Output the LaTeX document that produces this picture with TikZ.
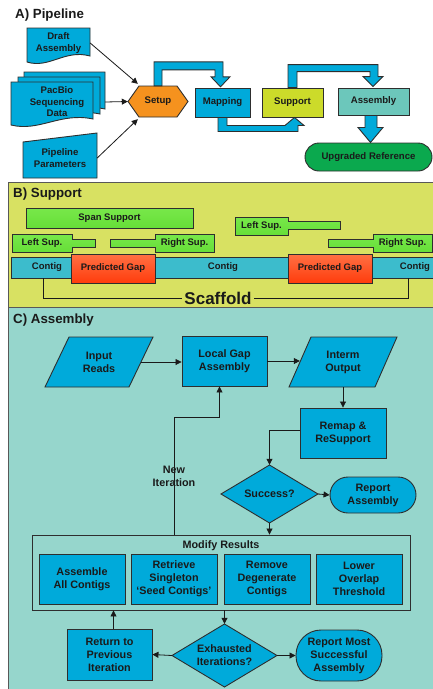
\documentclass[tikz,border=0pt]{standalone}
\usepackage{fontspec}
\setmainfont{Liberation Sans}
\usetikzlibrary{arrows.meta,calc}

\definecolor{ink}{HTML}{1A1A1A}
\definecolor{edge}{HTML}{2E2E2E}
\definecolor{flowblue}{HTML}{00AADA}
\definecolor{setuporange}{HTML}{F5921E}
\definecolor{supportlime}{HTML}{CCDB2A}
\definecolor{assemblyteal}{HTML}{6CC7BB}
\definecolor{refgreen}{HTML}{0BA94E}
\definecolor{panelB}{HTML}{D8E162}
\definecolor{panelC}{HTML}{96D6CC}
\definecolor{supgreen}{HTML}{66DE38}
\definecolor{suptop}{HTML}{78E84A}
\definecolor{contigteal}{HTML}{3CBCCC}
\definecolor{gaptop}{HTML}{FF7044}
\definecolor{gapbot}{HTML}{FF3C0C}

\tikzset{
  txtbase/.style={text=ink, align=center, inner sep=0pt},
  txtA/.style={txtbase, font=\bfseries\fontsize{9.6}{11.5}\selectfont},
  txtB/.style={txtbase, font=\bfseries\fontsize{9.5}{11}\selectfont},
  txtC/.style={txtbase, font=\bfseries\fontsize{10.8}{13}\selectfont},
  title/.style={txtbase, anchor=base west, font=\bfseries\fontsize{13.3}{15}\selectfont},
  shapeline/.style={draw=edge, line width=0.9pt, line join=miter},
  boxA/.style={txtA, shapeline, fill=flowblue, rectangle},
  boxC/.style={txtC, shapeline, fill=flowblue, rectangle},
  docstyle/.style={shapeline, fill=flowblue},
  supstyle/.style={shapeline, top color=suptop, bottom color=supgreen},
  panel/.style={draw=edge!80, line width=0.9pt},
  arr/.style={draw=ink, line width=0.8pt, -{Triangle[length=6pt,width=6pt]}},
  blockarrow/.style={shapeline, fill=flowblue},
  bracket/.style={draw=ink, line width=0.8pt},
}

% document shape with a wavy lower edge: left, top, right, bottom (at the left)
\newcommand{\docshape}[4]{%
  \filldraw[docstyle] (#1,#2) -- (#3,#2) -- (#3,{#4-6})
    .. controls ({#1+0.6*(#3-#1)},{#4-13}) and ({#1+0.35*(#3-#1)},{#4+7}) .. (#1,#4) -- cycle;}

% support read: body from #1 to #2 (rows #3..#4), thin tail from #2 to #5 (rows #6..#7)
\newcommand{\supshape}[7]{%
  \filldraw[supstyle] (#1,#3) -- (#2,#3) -- (#2,#6) -- (#5,#6) -- (#5,#7)
    -- (#2,#7) -- (#2,#4) -- (#1,#4) -- cycle;}

\begin{document}
\begin{tikzpicture}[x=1pt, y=-1pt]
\clip (0,0) rectangle (433,689);
\fill[white] (0,0) rectangle (433,689);

%% ---------------- A) Pipeline ----------------
\node[title] (titleA) at (15,18) {A) Pipeline};

% inputs
\docshape{27}{28}{90}{62}
\node[txtA, minimum width=63, minimum height=30] (draft) at (58.5,43) {Draft\\Assembly};

\docshape{24}{72}{105}{115}
\docshape{18}{77}{100}{120}
\docshape{11}{82}{93}{125}
\node[txtA, minimum width=96, minimum height=40] (pacbio) at (57,102) {PacBio\\Sequencing\\Data};

\filldraw[docstyle] (23,142) -- (97,133) -- (97,178) -- (23,178) -- cycle;
\node[txtA, minimum width=74, minimum height=40] (params) at (60,158) {Pipeline\\Parameters};

% setup hexagon
\filldraw[shapeline, fill=setuporange] (128,101.5) -- (139,86) -- (177,86) -- (188,101.5)
  -- (177,117) -- (139,117) -- cycle;
\node[txtA, minimum width=60, minimum height=31] (setup) at (158,101.5) {Setup};

\draw[arr] (draft.east) -- ($(setup.north west)+(10,-2)$);
\draw[arr] (pacbio.east) -- (setup.west);
\draw[arr] (params.east) -- ($(setup.south west)+(10,2)$);

% stages
\node[boxA, minimum width=55, minimum height=29] (map) at (222.5,102.5) {Mapping};
\node[boxA, fill=supportlime, minimum width=61, minimum height=29] (support) at (292.5,102.5) {Support};
\node[boxA, fill=assemblyteal, minimum width=71, minimum height=27] (assembly) at (373.5,101.5) {Assembly};
\node[boxA, fill=refgreen, rounded corners=14, minimum width=127, minimum height=28] (upgraded) at (368.5,157) {Upgraded Reference};

% block arrows between stages
\draw[blockarrow] ($(setup.north)+(-4,0)$) -- ++(0,-24) -- ++(69,0) -- ++(0,15) -- ++(7,0)
  -- ++(-9.5,10) -- ++(-9.5,-10) -- ++(4,0) -- ++(0,-7) -- ++(-53,0) -- ++(0,16) -- cycle;
\draw[blockarrow] ($(map.south)+(-4.5,0)$) -- ++(0,14) -- ++(80,0) -- ++(0,-6) -- ++(6,0)
  -- ++(-9.5,-8) -- ++(-9.5,8) -- ++(-58,0) -- ++(0,-8) -- cycle;
\draw[blockarrow] ($(support.north)+(-4.5,0)$) -- ++(0,-23) -- ++(90,0) -- ++(0,12) -- ++(5,0)
  -- ++(-10,10) -- ++(-10,-10) -- ++(7,0) -- ++(0,-5) -- ++(-73,0) -- ++(0,16) -- cycle;
\draw[blockarrow] ($(assembly.south)+(-8.5,0)$) -- ++(0,12) -- ++(-7,0) -- ++(12.5,15)
  -- ++(12.5,-15) -- ++(-6,0) -- ++(0,-12) -- cycle;

%% ---------------- B) Support ----------------
\filldraw[panel, fill=panelB] (8,182) rectangle (445,307);
\node[title] (titleB) at (13,197) {B) Support};

\node[txtB, shapeline, top color=suptop, bottom color=supgreen, minimum width=167, minimum height=20] (span) at (109.5,218) {Span Support};

\supshape{12}{72}{234}{252}{95}{239}{247}
\node[txtB] (lsupA) at (42,243) {Left Sup.};
\supshape{214}{155}{234}{252}{110}{239}{247}
\node[txtB] (rsupA) at (184.5,243) {Right Sup.};
\supshape{235}{288}{217}{235}{340}{221}{229}
\node[txtB] (lsupB) at (261.5,226) {Left Sup.};
\supshape{432}{373}{234}{252}{328}{239}{247}
\node[txtB] (rsupB) at (402.5,243) {Right Sup.};

% contigs and predicted gaps
\filldraw[shapeline, fill=contigteal] (11,257) rectangle (445,278);
\node[txtB, minimum height=21] (contigA) at (47,267.5) {Contig};
\node[txtB, minimum height=21] (contigB) at (223,267.5) {Contig};
\node[txtB, minimum height=21] (contigC) at (415,267.5) {Contig};
\node[txtB, shapeline, top color=gaptop, bottom color=gapbot, minimum width=84, minimum height=29] (gapA) at (113,268.5) {Predicted Gap};
\node[txtB, shapeline, top color=gaptop, bottom color=gapbot, minimum width=84, minimum height=29] (gapB) at (330,268.5) {Predicted Gap};

% scaffold bracket
\node[txtbase, font=\bfseries\fontsize{17}{20}\selectfont, inner xsep=2pt] (scaffold) at (218,298) {Scaffold};
\draw[bracket] ($(contigA.south)+(-4,0)$) |- (scaffold.west);
\draw[bracket] ($(contigC.south)+(-7,0)$) |- (scaffold.east);

%% ---------------- C) Assembly ----------------
\filldraw[panel, fill=panelC] (8,307) rectangle (445,700);
\node[title] (titleC) at (13,323) {C) Assembly};

\filldraw[docstyle] (69,337) -- (153,337) -- (129,387) -- (45,387) -- cycle;
\node[txtC, minimum width=84, minimum height=50] (inreads) at (99,362) {Input\\Reads};

\node[boxC, minimum width=85, minimum height=50] (local) at (224.5,361) {Local Gap\\Assembly};

\filldraw[docstyle] (311,337) -- (397,337) -- (375,387) -- (289,387) -- cycle;
\node[txtC, minimum width=86, minimum height=50] (interm) at (343,362) {Interm\\Output};

\node[boxC, minimum width=86, minimum height=50] (remap) at (343,433) {Remap \&\\ReSupport};

\filldraw[docstyle] (221,494) -- (269.5,465) -- (318,494) -- (269.5,523) -- cycle;
\node[txtC, minimum width=97, minimum height=58] (success) at (269.5,494) {Success?};

\node[boxC, rounded corners=18, minimum width=86, minimum height=36] (report) at (373,495) {Report\\Assembly};

% modification strategies
\node[shapeline, fill=panelC, minimum width=378, minimum height=75, inner sep=0pt] (modify) at (221,572.5) {};
\node[txtC] (modlabel) at (221,546) {Modify Results};
\node[boxC, minimum width=86, minimum height=50] (assembleall) at (82,579) {Assemble\\All Contigs};
\node[boxC, minimum width=86, minimum height=50] (retrieve) at (174,579) {Retrieve\\Singleton\\‘Seed Contigs’};
\node[boxC, minimum width=86, minimum height=50] (remove) at (267,579) {Remove\\Degenerate\\Contigs};
\node[boxC, minimum width=86, minimum height=50] (lower) at (359,579) {Lower\\Overlap\\Threshold};

\filldraw[docstyle] (172,655.5) -- (224.5,624) -- (277,655.5) -- (224.5,687) -- cycle;
\node[txtC, minimum width=105, minimum height=63] (exh) at (224.5,655.5) {Exhausted\\Iterations?};

\node[boxC, minimum width=85, minimum height=51] (ret) at (109.5,654.5) {Return to\\Previous\\Iteration};
\node[boxC, rounded corners=25, minimum width=86, minimum height=51] (reportmost) at (339,655.5) {Report Most\\Successful\\Assembly};

% flow
\draw[arr] (inreads.east) -- (inreads.east -| local.west);
\draw[arr] (local.east) -- (local.east -| interm.west);
\draw[arr] (interm.south) -- (remap.north);
\draw[arr] ($(remap.west)+(0,-3)$) -| (success.north);
\draw[arr] (success.east) -- (report.west);
\draw[arr] (success.south) -- (success.south |- modify.north);

\coordinate (iterfoot) at ($(modify.north west)+(143,0)$);
\draw[arr] (iterfoot) -- ++(0,-117) -| ($(local.south)+(-5,0)$);
\node[txtC] (iterlabel) at (174,476) {New\\Iteration};

\draw[arr] (exh.north |- modify.south) -- (exh.north);
\draw[arr] (exh.west) -- (ret.east);
\coordinate (retup) at ($(ret.north)+(4,0)$);
\draw[arr] (retup) -- (retup |- modify.south);
\draw[arr] (exh.east) -- (reportmost.west);
\end{tikzpicture}
\end{document}
